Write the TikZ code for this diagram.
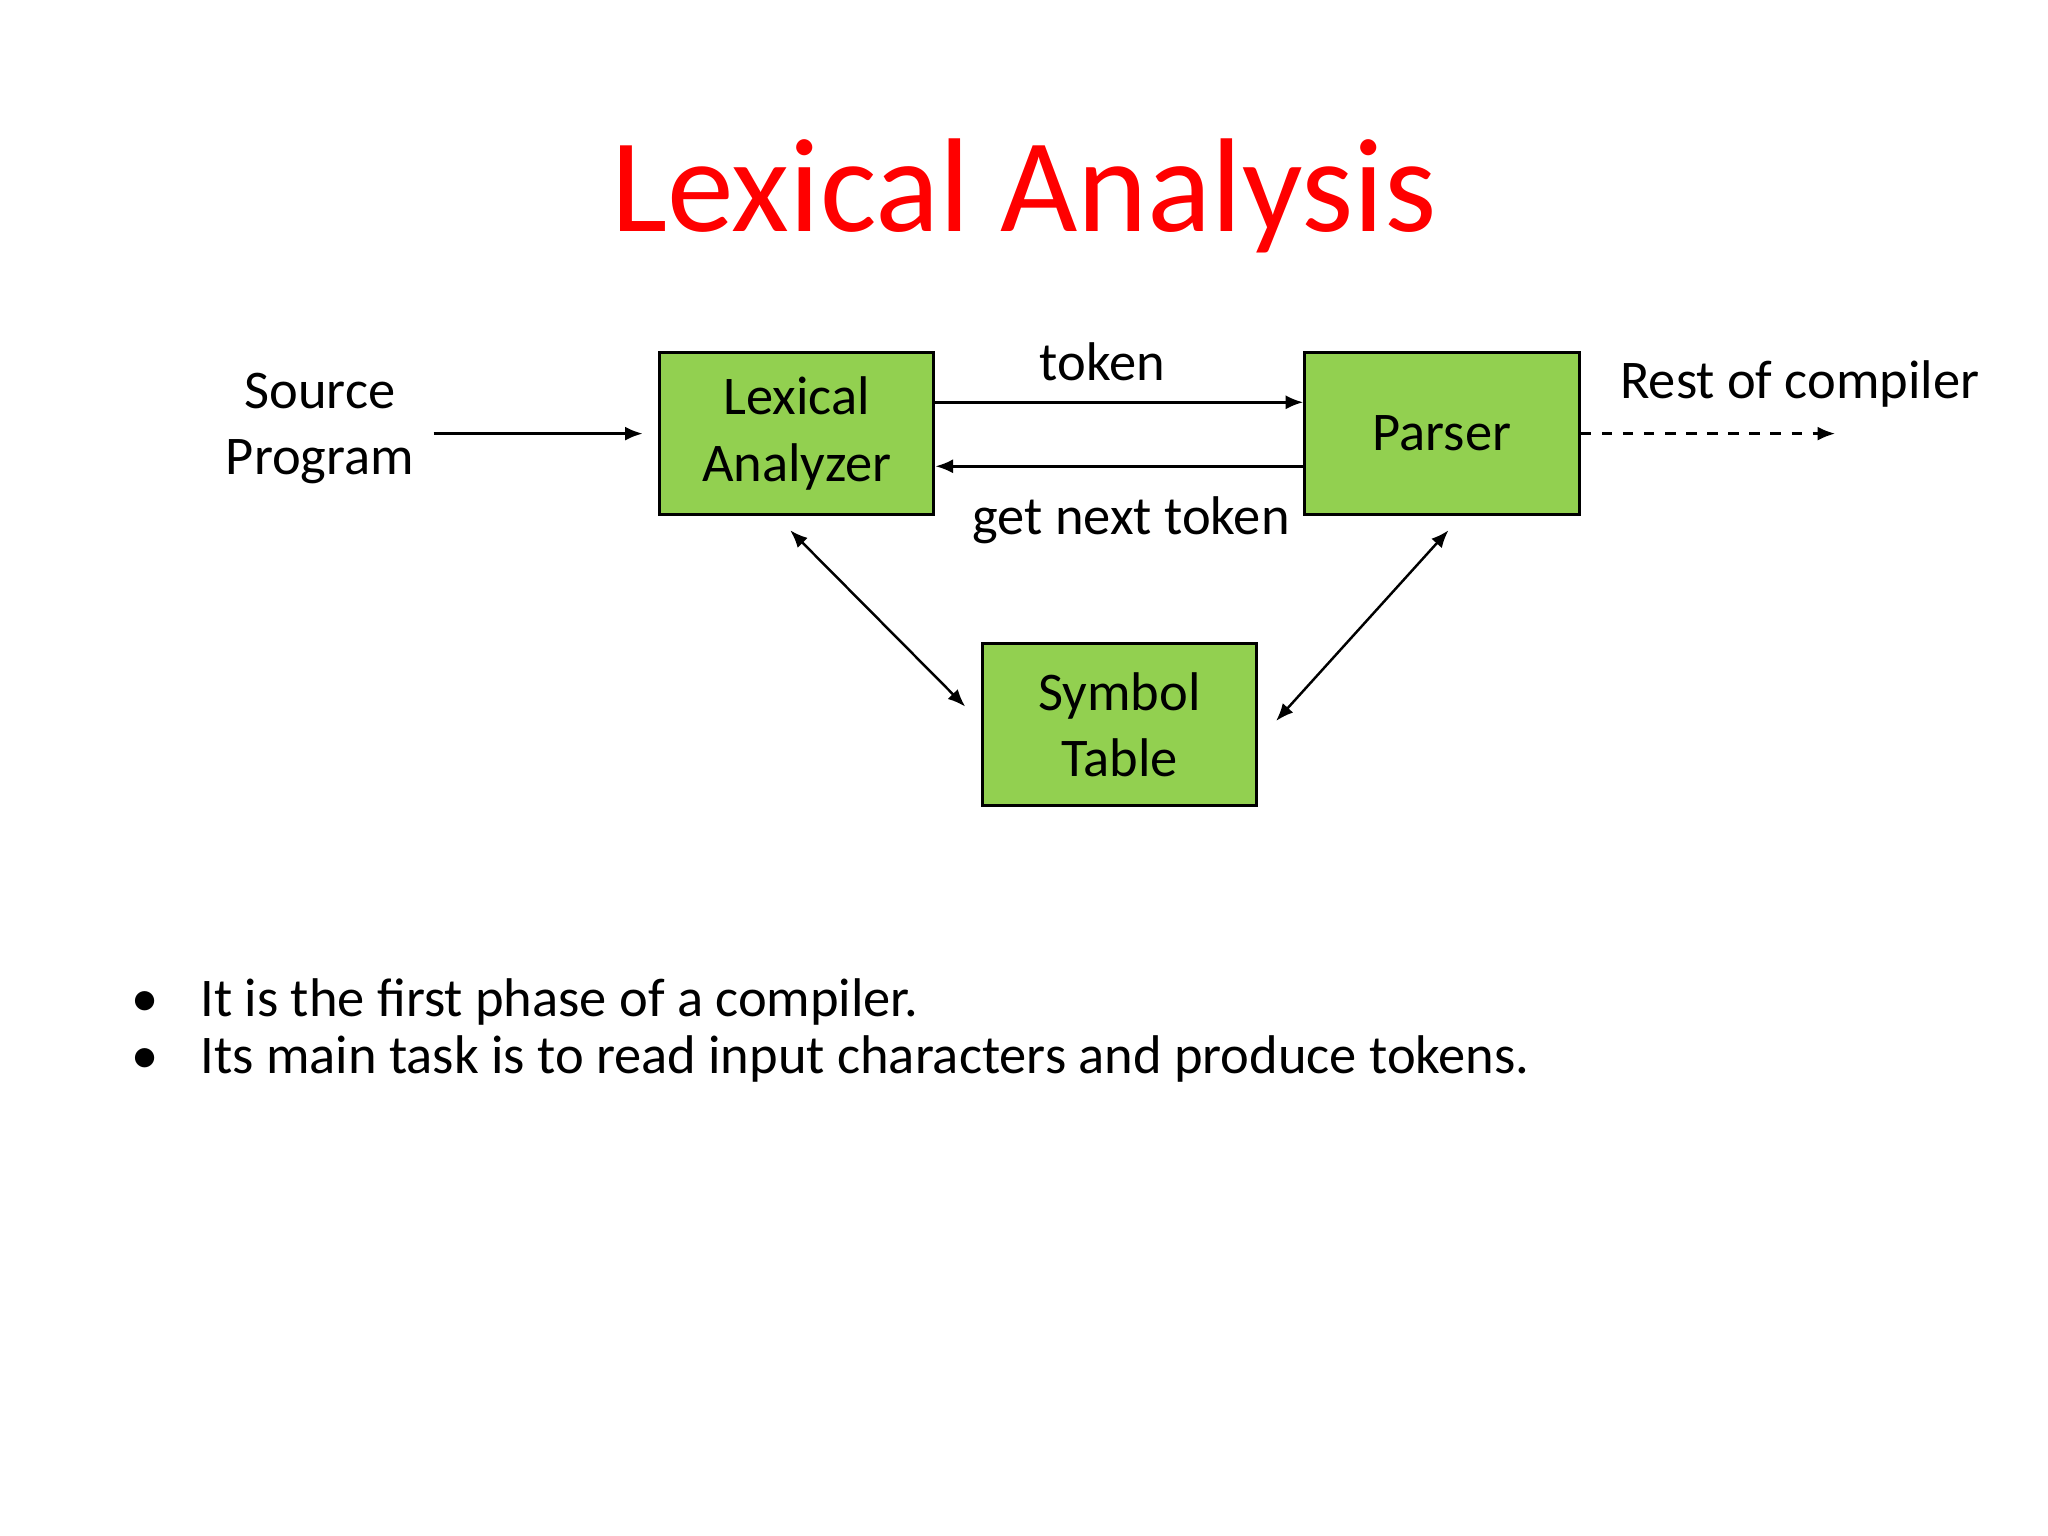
\documentclass[tikz,border=0pt]{standalone}
\usepackage{fontspec}
\setmainfont{Carlito}
\usetikzlibrary{arrows.meta}
\begin{document}
\begin{tikzpicture}[x=0.013061cm,y=-0.013061cm,
  box/.style={draw=black,line width=0.9pt,fill=green!60!lime!70!yellow,minimum width=210*0.013061cm,minimum height=124*0.013061cm,align=center,font=\fontsize{15.5}{19}\selectfont,inner sep=0pt},
  lbl/.style={font=\fontsize{15.5}{19}\selectfont,align=center,inner sep=0pt},
  arr/.style={-{Latex[length=5pt,width=4pt]},line width=0.7pt},
  darr/.style={{Latex[length=5pt,width=4pt]}-{Latex[length=5pt,width=4pt]},line width=0.7pt}]
\useasboundingbox (0,0) rectangle (1568,1176);
\colorlet{boxg}{black}
\definecolor{gr}{HTML}{92D050}
\tikzset{box/.append style={fill=gr}}
\node[font=\fontsize{38}{44}\selectfont,text=red] (title) at (784,150) {Lexical Analysis};
\node[box] (lex) at (610,332) {Lexical\\Analyzer};
\node[box] (par) at (1104,332) {Parser};
\node[box] (sym) at (857,555) {Symbol\\Table};
\node[lbl] (src) at (245,328) {Source\\Program};
\node[lbl] (tok) at (844,277) {token};
\node[lbl] (gnt) at (866,398) {get next token};
\node[lbl] (rest) at (1378,294) {Rest of compiler};
\coordinate (s1) at (332,332); \coordinate (s2) at (492,332);
\draw[arr] (s1) -- (s2);
\draw[arr] (lex.east |- 0,308) -- (par.west |- 0,308);
\draw[arr] (par.west |- 0,357) -- (lex.east |- 0,357);
\coordinate (r2) at (1405,332);
\draw[arr,dashed] (par.east) -- (r2);
\coordinate (d1) at (605,406); \coordinate (d2) at (739,541);
\draw[darr] (d1) -- (d2);
\coordinate (e1) at (1109,406); \coordinate (e2) at (977,552);
\draw[darr] (e1) -- (e2);
\node[lbl,anchor=base west] (b1) at (100,778) {•};
\node[lbl,anchor=base west] (t1) at (153,778) {It is the first phase of a compiler.};
\node[lbl,anchor=base west] (b2) at (100,822) {•};
\node[lbl,anchor=base west] (t2) at (153,822) {Its main task is to read input characters and produce tokens.};
\end{tikzpicture}
\end{document}
